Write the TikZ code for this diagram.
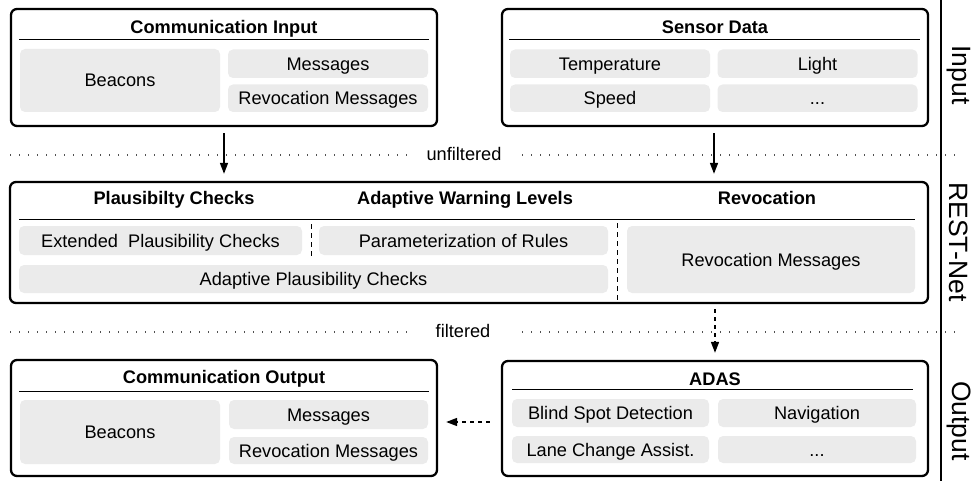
\documentclass[tikz,border=0pt]{standalone}
\usepackage{fontspec}
\setmainfont{Liberation Sans}
\usetikzlibrary{arrows.meta}
\definecolor{cellgray}{RGB}{235,235,235}
\definecolor{dotgray}{RGB}{80,80,80}
\tikzset{
  outerbox/.style={draw, line width=2.3pt, rounded corners=6pt, inner sep=0pt},
  cell/.style={fill=cellgray, rounded corners=5pt, inner sep=0pt, text height=13pt, text depth=0pt, font=\fontsize{18.2}{20}\selectfont},
  title/.style={inner sep=0pt, text height=13pt, text depth=0pt, font=\fontsize{18.2}{20}\selectfont\bfseries},
  hdr/.style={line width=1pt},
  sep/.style={line width=1pt, dash pattern=on 5pt off 4pt},
  dotline/.style={dotgray, line width=1.4pt, dash pattern=on 1.4pt off 7.6pt},
  lbl/.style={inner sep=0pt, text height=13pt, text depth=0pt, font=\fontsize{18.2}{20}\selectfont},
  side/.style={inner sep=0pt, rotate=-90, font=\fontsize{26.5}{28}\selectfont},
  flow/.style={line width=1.6pt, -{Triangle[width=8pt,length=11pt]}},
  dflow/.style={line width=1.6pt, dash pattern=on 4pt off 4pt, -{Triangle[width=8pt,length=11pt]}}
}
\begin{document}
\begin{tikzpicture}[x=1pt,y=-1pt]
\useasboundingbox (0,0) rectangle (974,481);

% ---------- Communication Input ----------
\node[outerbox, minimum width=426pt, minimum height=117pt] (ci) at (224,67.5) {};
\node[title] (cit) at (224,27) {Communication Input};
\coordinate (cil1) at (19,40); \coordinate (cil2) at (429,40);
\draw[hdr] (cil1) -- (cil2);
\node[cell, minimum width=200pt, minimum height=63pt] (cib) at (120,80.5) {Beacons};
\node[cell, minimum width=200pt, minimum height=28.5pt] (cim) at (328,63.75) {Messages};
\node[cell, minimum width=200pt, minimum height=27.5pt] (cir) at (328,98.25) {Revocation Messages};

% ---------- Sensor Data ----------
\node[outerbox, minimum width=426pt, minimum height=117pt] (sd) at (715,67.5) {};
\node[title] (sdt) at (715,27) {Sensor Data};
\coordinate (sdl1) at (509,40); \coordinate (sdl2) at (920,40);
\draw[hdr] (sdl1) -- (sdl2);
\node[cell, minimum width=200pt, minimum height=28.5pt] (sdtemp) at (610,63.75) {Temperature};
\node[cell, minimum width=200pt, minimum height=28.5pt] (sdlight) at (817.5,63.75) {Light};
\node[cell, minimum width=200pt, minimum height=27.5pt] (sdspeed) at (610,98.25) {Speed};
\node[cell, minimum width=200pt, minimum height=27.5pt] (sddots) at (817.5,98.25) {...};

% ---------- REST-Net ----------
\node[outerbox, minimum width=918pt, minimum height=121pt] (rn) at (469,242.5) {};
\node[title] (rnt1) at (174,198) {Plausibilty Checks};
\node[title] (rnt2) at (465,198) {Adaptive Warning Levels};
\node[title] (rnt3) at (767,198) {Revocation};
\coordinate (rnl1) at (19,219); \coordinate (rnl2) at (915,219);
\draw[hdr] (rnl1) -- (rnl2);
\node[cell, minimum width=283pt, minimum height=29pt] (epc) at (160.5,240.5) {Extended~~Plausibility Checks};
\node[cell, minimum width=289pt, minimum height=29pt] (por) at (463.5,240.5) {Parameterization of Rules};
\node[cell, minimum width=589pt, minimum height=28pt] (apc) at (313.5,279) {Adaptive Plausibility Checks};
\node[cell, minimum width=288pt, minimum height=67pt] (rnm) at (771,259.5) {Revocation Messages};
\coordinate (s1a) at (311,224); \coordinate (s1b) at (311,256);
\draw[sep] (s1a) -- (s1b);
\coordinate (s2a) at (617,223); \coordinate (s2b) at (617,301);
\draw[sep] (s2a) -- (s2b);

% ---------- Communication Output ----------
\node[outerbox, minimum width=426pt, minimum height=116pt] (co) at (224,418) {};
\node[title] (cot) at (224,377) {Communication Output};
\coordinate (col1) at (19,391); \coordinate (col2) at (429,391);
\draw[hdr] (col1) -- (col2);
\node[cell, minimum width=200pt, minimum height=64pt] (cob) at (120,432) {Beacons};
\node[cell, minimum width=199pt, minimum height=29pt] (com) at (328.5,414.5) {Messages};
\node[cell, minimum width=199pt, minimum height=27pt] (cor) at (328.5,450.5) {Revocation Messages};

% ---------- ADAS ----------
\node[outerbox, minimum width=426pt, minimum height=115pt] (ad) at (715,418.5) {};
\node[title] (adt) at (715,379) {ADAS};
\coordinate (adl1) at (512,389); \coordinate (adl2) at (913,389);
\draw[hdr] (adl1) -- (adl2);
\node[cell, minimum width=197pt, minimum height=28pt] (bsd) at (610.5,413) {Blind Spot Detection};
\node[cell, minimum width=198pt, minimum height=28pt] (nav) at (817,413) {Navigation};
\node[cell, minimum width=197pt, minimum height=27pt] (lca) at (610.5,449.5) {Lane Change Assist.};
\node[cell, minimum width=198pt, minimum height=27pt] (addots) at (817,449.5) {...};

% ---------- separators ----------
\node[lbl] (unf) at (464,154) {unfiltered};
\coordinate (d1a) at (10,155); \coordinate (d1b) at (410,155);
\coordinate (d1c) at (522,155); \coordinate (d1d) at (960,155);
\draw[dotline] (d1a) -- (d1b);
\draw[dotline] (d1c) -- (d1d);
\node[lbl] (fil) at (463,331) {filtered};
\coordinate (d2a) at (10,332); \coordinate (d2b) at (410,332);
\coordinate (d2c) at (522,332); \coordinate (d2d) at (960,332);
\draw[dotline] (d2a) -- (d2b);
\draw[dotline] (d2c) -- (d2d);

% ---------- side labels ----------
\coordinate (vt) at (941,0); \coordinate (vb) at (941,481);
\draw[line width=1.2pt] (vt) -- (vb);
\node[side] (sin) at (959,75) {Input};
\node[side] (srn) at (959,242) {REST-Net};
\node[side] (sout) at (959,421) {Output};

% ---------- arrows ----------
\draw[flow] ([yshift=-6pt]ci.south) -- ([yshift=7pt]rn.north -| ci.south);
\draw[flow] ([xshift=-1pt,yshift=-6pt]sd.south) -- ([xshift=-1pt,yshift=7pt]rn.north -| sd.south);
\draw[dflow] ([yshift=-5pt]rn.south -| ad.north) -- ([yshift=7pt]ad.north);
\coordinate (aw) at ([xshift=-11pt,yshift=-3.5pt]ad.west);
\draw[dflow] (aw) -- ([xshift=8pt]co.east |- aw);
\end{tikzpicture}
\end{document}
